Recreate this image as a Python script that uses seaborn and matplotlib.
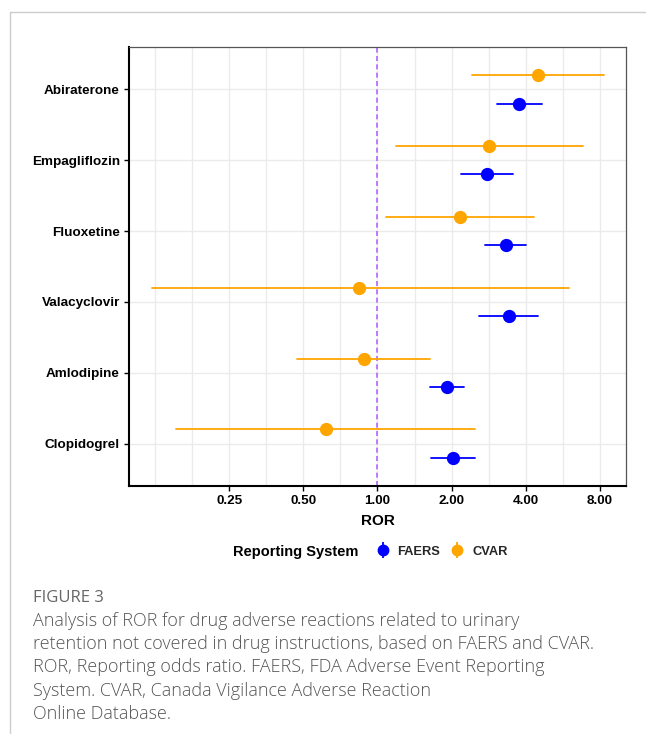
import numpy as np
import pandas as pd
import matplotlib
matplotlib.use("Agg")
import matplotlib.pyplot as plt
from matplotlib.lines import Line2D
from matplotlib.legend_handler import HandlerTuple
import seaborn as sns

drugs = ["Abiraterone", "Empagliflozin", "Fluoxetine", "Valacyclovir", "Amlodipine", "Clopidogrel"]

faers_ror = [3.77, 2.78, 3.32, 3.41, 1.91, 2.02]
faers_lo = [3.07, 2.18, 2.73, 2.58, 1.64, 1.65]
faers_hi = [4.66, 3.56, 4.00, 4.50, 2.24, 2.48]

cvar_ror = [4.50, 2.84, 2.16, 0.84, 0.88, 0.616]
cvar_lo = [2.43, 1.19, 1.08, 0.121, 0.473, 0.151]
cvar_hi = [8.35, 6.82, 4.31, 5.98, 1.64, 2.48]

x_ticks = [0.25, 0.5, 1.0, 2.0, 4.0, 8.0]
x_tick_labels = ["0.25", "0.50", "1.00", "2.00", "4.00", "8.00"]

colors = {"FAERS": "#0000FF", "CVAR": "#FFA500"}

rows = []
for sysname, est, lo, hi in [("CVAR", cvar_ror, cvar_lo, cvar_hi), ("FAERS", faers_ror, faers_lo, faers_hi)]:
    for d, e, l, h in zip(drugs, est, lo, hi):
        for v in (l, e, h):
            rows.append({"Drug": d, "System": sysname, "ROR": v})
df = pd.DataFrame(rows)

sns.set_theme(style="white")
plt.rcParams["font.family"] = ["Liberation Sans", "DejaVu Sans"]

fig = plt.figure(figsize=(6.46, 7.42), dpi=100)
ax = fig.add_axes([129 / 646, 1 - 486 / 742, (626 - 129) / 646, (486 - 47) / 742])
ax.set_xscale("log", base=2)

sns.pointplot(data=df, x="ROR", y="Drug", hue="System", order=drugs,
              hue_order=["CVAR", "FAERS"], palette=colors,
              estimator="median", errorbar=("pi", 100), dodge=0.4,
              linestyle="none", markers="o", markersize=7.5, err_kws={"linewidth": 1.3},
              capsize=0, legend=False, ax=ax, orient="h", zorder=3)

ax.axvline(1.0, color="#B266FF", linestyle=(0, (3, 2)), linewidth=1.2, zorder=2)

ax.set_xlim(0.0977, 10.24)
ax.set_ylim(5.6, -0.6)
ax.set_xticks(x_ticks)
ax.set_xticklabels(x_tick_labels)
minor = [0.125, 0.125 * 2 ** 0.5, 0.25 * 2 ** 0.5, 0.5 * 2 ** 0.5, 2 ** 0.5, 2 * 2 ** 0.5, 4 * 2 ** 0.5]
ax.set_xticks(minor, minor=True)
ax.xaxis.set_minor_formatter(matplotlib.ticker.NullFormatter())
ax.grid(True, which="major", color="#EBEBEB", linewidth=1.0)
ax.grid(True, which="minor", axis="x", color="#EBEBEB", linewidth=1.0)
ax.set_axisbelow(True)
ax.tick_params(axis="both", which="major", length=3.5, width=1, color="black",
               labelsize=9.7, labelcolor="black", pad=3, left=True, bottom=True)
ax.tick_params(axis="x", which="minor", length=0)
for lab in ax.get_xticklabels() + ax.get_yticklabels():
    lab.set_fontweight("bold")
ax.set_ylabel("")
ax.set_xlabel("ROR", fontsize=11, fontweight="bold", color="black", labelpad=5)

for s in ["left", "bottom"]:
    ax.spines[s].set_color("black")
    ax.spines[s].set_linewidth(1.5)
for s in ["top", "right"]:
    ax.spines[s].set_color("#555555")
    ax.spines[s].set_linewidth(0.9)

def handle(c):
    vline = Line2D([], [], color=c, marker="|", markersize=11, markeredgewidth=1.3, linestyle="none")
    dot = Line2D([], [], color=c, marker="o", markersize=7.5, linestyle="none")
    return (vline, dot)

fig.text(233 / 646, 1 - 552 / 742, "Reporting System", fontsize=10.5, fontweight="bold",
         color="black", va="center", ha="left")
leg = fig.legend([handle(colors["FAERS"]), handle(colors["CVAR"])], ["FAERS", "CVAR"],
                 handler_map={tuple: HandlerTuple(ndivide=1)},
                 loc="center left", bbox_to_anchor=(375 / 646, 1 - 552 / 742),
                 ncol=2, frameon=False, prop={"weight": "bold", "size": 9.3},
                 handlelength=1.2, handletextpad=0.55, columnspacing=0.7, borderpad=0,
                 borderaxespad=0)

fig.add_artist(Line2D([10 / 646, 10 / 646], [1 - 12 / 742, 1 - 733 / 742], transform=fig.transFigure,
                      color="#CCCCCC", linewidth=1))
fig.add_artist(Line2D([10 / 646, 1.0], [1 - 12 / 742, 1 - 12 / 742], transform=fig.transFigure,
                      color="#CCCCCC", linewidth=1))

fig.text(33 / 646, 1 - 598 / 742, "FIGURE 3", fontsize=12, color="#666666",
         family=["Open Sans", "DejaVu Sans"], va="center", ha="left")
caption = ["Analysis of ROR for drug adverse reactions related to urinary",
           "retention not covered in drug instructions, based on FAERS and CVAR.",
           "ROR, Reporting odds ratio. FAERS, FDA Adverse Event Reporting",
           "System. CVAR, Canada Vigilance Adverse Reaction",
           "Online Database."]
for i, line in enumerate(caption):
    fig.text(33 / 646, 1 - (621 + 23.2 * i) / 742, line, fontsize=13, color="#555555",
             family=["Open Sans", "DejaVu Sans"], fontweight="light", va="center", ha="left")

fig.savefig("out.png", dpi=100)
